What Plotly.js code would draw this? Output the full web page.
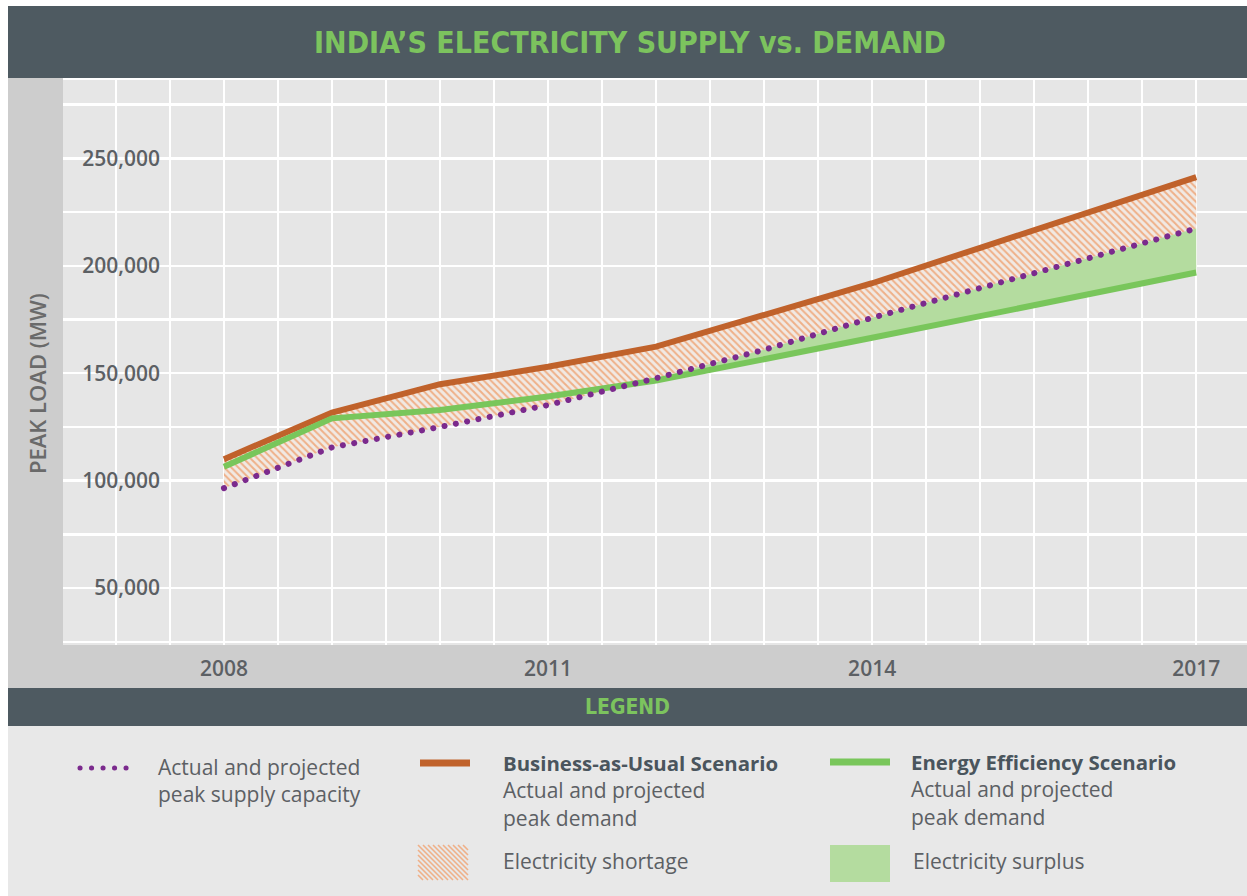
<!DOCTYPE html>
<html>
<head>
<meta charset="utf-8">
<script src="https://cdn.plot.ly/plotly-3.0.1.min.js"></script>
<style>
  html, body { margin: 0; padding: 0; background: #ffffff; }
  #chart { width: 1247px; height: 896px; }
</style>
</head>
<body>
<div id="chart"></div>
<script>
// ---- Data ----
const years = [2008, 2009, 2010, 2011, 2012, 2013, 2014, 2015, 2016, 2017];
const bauDemand = [110000, 131700, 144900, 153000, 162400, 177300, 191900, 208400, 224900, 241300];
const eeDemand = [106500, 129000, 132900, 139200, 146600, 156200, 166500, 176600, 186800, 196900];
const supplyCapacity = [96500, 115500, 125000, 135200, 147700, 160900, 175800, 189700, 203500, 217400];
const xTickVals = [2008, 2011, 2014, 2017];
const xTickLabels = ['2008', '2011', '2014', '2017'];
const yTickVals = [50000, 100000, 150000, 200000, 250000];
const yTickLabels = ['50,000', '100,000', '150,000', '200,000', '250,000'];

// ---- Layout geometry helpers (pixels -> paper) ----
const M = { l: 63, r: 0, t: 80, b: 251 };
const W = 1247, H = 896;
const PW = W - M.l - M.r, PH = H - M.t - M.b;
const px = x => (x - M.l) / PW;
const py = y => (H - M.b - y) / PH;

// ---- Surplus band: where supply exceeds EE demand (with crossing points) ----
const surX = [], surLow = [];
for (let i = 0; i < years.length; i++) {
  surX.push(years[i]);
  surLow.push(Math.min(eeDemand[i], supplyCapacity[i]));
  if (i < years.length - 1) {
    const d0 = eeDemand[i] - supplyCapacity[i];
    const d1 = eeDemand[i + 1] - supplyCapacity[i + 1];
    if (d0 * d1 < 0) {
      const t = d0 / (d0 - d1);
      surX.push(years[i] + t * (years[i + 1] - years[i]));
      surLow.push(supplyCapacity[i] + t * (supplyCapacity[i + 1] - supplyCapacity[i]));
    }
  }
}

const ORANGE = '#c0622b', GREEN = '#79c65b', PURPLE = '#7b2a8d';
const SURPLUS = '#b4dc9f', HATCH = '#efb088', HATCHBG = '#f1e9e3';
const TXT = '#5c6064', DARK = '#4a555d';
const DOTDASH = '0.1px,11.4px';

const traces = [
  { x: years, y: supplyCapacity, mode: 'lines', line: { width: 0 }, showlegend: false, hoverinfo: 'skip' },
  { x: years, y: bauDemand, mode: 'lines', line: { width: 0 }, fill: 'tonexty',
    fillcolor: HATCHBG,
    fillpattern: { shape: '\\', size: 5, solidity: 0.4, fgcolor: HATCH, bgcolor: HATCHBG, fillmode: 'replace' },
    name: 'Electricity shortage', showlegend: false, hoverinfo: 'skip' },
  { x: years, y: supplyCapacity, mode: 'lines', line: { width: 0 }, showlegend: false, hoverinfo: 'skip' },
  { x: surX, y: surLow, mode: 'lines', line: { width: 0 }, fill: 'tonexty', fillcolor: SURPLUS,
    name: 'Electricity surplus', showlegend: false, hoverinfo: 'skip' },
  { x: years, y: bauDemand, mode: 'lines', line: { color: ORANGE, width: 6 },
    name: 'Business-as-Usual Scenario', showlegend: false },
  { x: years, y: eeDemand, mode: 'lines', line: { color: GREEN, width: 6 },
    name: 'Energy Efficiency Scenario', showlegend: false },
  { x: years, y: supplyCapacity, mode: 'lines', line: { color: PURPLE, width: 6, dash: DOTDASH },
    name: 'Actual and projected peak supply capacity', showlegend: false }
];

// ---- Decorative bands ----
const shapes = [];
function rectPx(x0, y0, x1, y1, color) {
  shapes.push({ type: 'rect', xref: 'paper', yref: 'paper', layer: 'below',
    x0: px(x0), x1: px(x1), y0: py(y1), y1: py(y0),
    fillcolor: color, line: { width: 0 } });
}
rectPx(8, 6, W, 78, '#4e5a61');      // title bar
rectPx(8, 78, M.l, 688, '#cdcdcd');   // left strip
rectPx(8, 645, W, 688, '#cdcdcd');    // x label band
rectPx(8, 688, W, 726, '#4e5a61');    // legend bar
rectPx(8, 726, W, 896, '#e8e8e8');    // legend area

// legend swatches
function linePx(x0, y0, x1, y1, color, width, dash) {
  shapes.push({ type: 'line', xref: 'paper', yref: 'paper', layer: 'below',
    x0: px(x0), x1: px(x1), y0: py(y0), y1: py(y1),
    line: { color: color, width: width, dash: dash || 'solid' } });
}
linePx(80, 768, 134, 768, PURPLE, 5, DOTDASH);
linePx(420, 763, 470, 763, ORANGE, 7);
linePx(830, 762, 890, 762, GREEN, 7);
rectPx(830, 845, 890, 882, SURPLUS);
// hatch swatch: diagonal "\" lines clipped to the box
(function () {
  const x0 = 418, x1 = 468, y0 = 845, y1 = 880, step = 5;
  let d = '';
  for (let c = -(y1 - y0); c <= (x1 - x0); c += step) {
    let ya = y0, xa = x0 + c;
    if (xa < x0) { ya = y0 + (x0 - xa); xa = x0; }
    let yb = y1, xb = x0 + (y1 - y0) + c;
    if (xb > x1) { yb = y1 - (xb - x1); xb = x1; }
    if (ya >= yb) continue;
    d += `M${px(xa)},${py(ya)} L${px(xb)},${py(yb)} `;
  }
  shapes.push({ type: 'path', xref: 'paper', yref: 'paper', layer: 'below', path: d,
    line: { color: HATCH, width: 1.6 } });
})();

const FONT = 'Open Sans, Lato, sans-serif';
const COND = 'Liberation Sans Narrow, DejaVu Sans Condensed, Roboto Condensed, Open Sans, sans-serif';

function ann(text, x, y, opts) {
  return Object.assign({ text: text, x: px(x), y: py(y), xref: 'paper', yref: 'paper',
    showarrow: false, xanchor: 'left', yanchor: 'middle', align: 'left',
    font: { family: FONT, size: 21, color: TXT } }, opts || {});
}

const annotations = [
  ann('PEAK LOAD (MW)', 37, 384, { xanchor: 'center', textangle: -90,
    font: { family: FONT, size: 22, color: '#6a6a6a', weight: 600 } }),
  ann('LEGEND', 627.5, 707, { xanchor: 'center', font: { family: COND, size: 21, color: '#7cc35e', weight: 'bold' } }),
  ann('Actual and projected<br>peak supply capacity', 156, 780),
  ann('<b style="color:' + DARK + ';font-size:20.4px">Business-as-Usual Scenario</b><br>Actual and projected<br>peak demand', 501, 790),
  ann('Electricity shortage', 501, 861),
  ann('<b style="color:' + DARK + ';font-size:20.4px">Energy Efficiency Scenario</b><br>Actual and projected<br>peak demand', 909, 789),
  ann('Electricity surplus', 911, 861)
];

const layout = {
  width: W, height: H,
  margin: M,
  paper_bgcolor: '#ffffff',
  plot_bgcolor: '#e6e6e6',
  showlegend: false,
  title: {
    text: 'INDIA’S ELECTRICITY SUPPLY vs. DEMAND',
    font: { family: COND, size: 30, color: '#7cc35e', weight: 'bold' },
    x: 630 / W, xref: 'container', xanchor: 'center',
    y: 1 - 42 / H, yref: 'container', yanchor: 'middle'
  },
  xaxis: {
    range: [2006.51, 2017.47],
    tickmode: 'array', tickvals: xTickVals, ticktext: xTickLabels,
    ticks: 'outside', ticklen: 5, tickcolor: 'rgba(0,0,0,0)',
    showgrid: true, gridcolor: '#ffffff', gridwidth: 2,
    minor: { tickmode: 'linear', tick0: 2007, dtick: 0.5, showgrid: true, gridcolor: '#ffffff', gridwidth: 2, ticks: '' },
    zeroline: false, showline: false,
    tickfont: { family: FONT, size: 21, color: TXT, weight: 600 },
    fixedrange: true
  },
  yaxis: {
    range: [23500, 286500],
    tickmode: 'array', tickvals: yTickVals, ticktext: yTickLabels,
    anchor: 'free', position: px(160),
    ticks: '', showline: false, zeroline: false,
    showgrid: true, gridcolor: '#ffffff', gridwidth: 2.5,
    minor: { tickmode: 'linear', tick0: 0, dtick: 25000, showgrid: true, gridcolor: '#ffffff', gridwidth: 2.5, ticks: '' },
    tickfont: { family: FONT, size: 21, color: TXT, weight: 600 },
    fixedrange: true
  },
  shapes: shapes,
  annotations: annotations
};

Plotly.newPlot('chart', traces, layout, { displayModeBar: false, staticPlot: true }).then(function (gd) {
  // make the dotted strokes round dots, as in the reference
  gd.querySelectorAll('path').forEach(function (p) {
    const da = p.style.strokeDasharray || p.getAttribute('stroke-dasharray') || '';
    if (da.indexOf('0.1') === 0) p.style.strokeLinecap = 'round';
  });
});
</script>
</body>
</html>
